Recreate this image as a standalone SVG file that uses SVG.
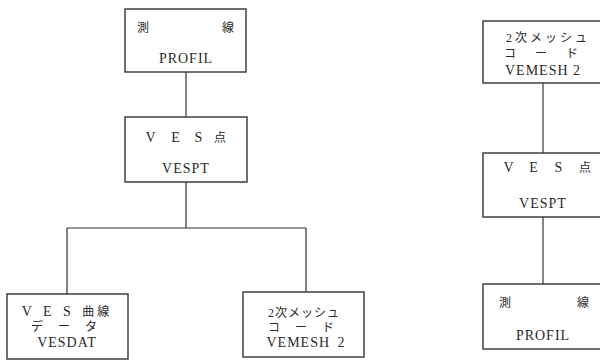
<svg xmlns="http://www.w3.org/2000/svg" width="600" height="362" viewBox="0 0 600 362">
<style>
.box{fill:#fff;stroke:#333;stroke-width:1.4}
.ln{fill:none;stroke:#333;stroke-width:1.2}
text{font-family:"Liberation Serif","Noto Sans CJK JP",serif;font-size:14px;fill:#2a2a2a;text-anchor:middle;letter-spacing:1px}
.j{font-size:12px;letter-spacing:0}
</style>
<rect width="600" height="362" fill="#fff"/>
<g id="connectors">
<path class="ln" d="M186,72V117"/>
<path class="ln" d="M186,182V228M67,228H306M67,228V294M306,228V292"/>
<path class="ln" d="M543,83V153"/>
<path class="ln" d="M543,217V284"/>
</g>
<g id="profil-left">
<rect class="box" x="125" y="9" width="121" height="63"/>
<text class="j" x="143" y="32">測</text>
<text class="j" x="228" y="32">線</text>
<text x="186" y="63">PROFIL</text>
</g>
<g id="vespt-left">
<rect class="box" x="125" y="117" width="122" height="65"/>
<text x="151" y="142">V</text>
<text x="176" y="142">E</text>
<text x="199" y="142">S</text>
<text class="j" x="220" y="142">点</text>
<text x="186" y="173">VESPT</text>
</g>
<g id="vesdat">
<rect class="box" x="7" y="294" width="121" height="65"/>
<text x="67" y="316" style="letter-spacing:4px">V E S <tspan class="j" style="letter-spacing:3px">曲線</tspan></text>
<text class="j" x="67" y="331" style="letter-spacing:6px">デ ー タ</text>
<text x="67" y="347">VESDAT</text>
</g>
<g id="vemesh-left">
<rect class="box" x="243" y="292" width="121" height="65"/>
<text class="j" x="304" y="317" style="letter-spacing:1px">2次メッシュ</text>
<text class="j" x="304" y="332" style="letter-spacing:6px">コ ー ド</text>
<text x="306" y="347" style="word-spacing:3px">VEMESH 2</text>
</g>
<g id="vemesh-right">
<rect class="box" x="483" y="21" width="125" height="62"/>
<text class="j" x="548" y="42" style="letter-spacing:3px">2次メッシュ</text>
<text class="j" x="545" y="58" style="letter-spacing:8px">コ ー ド</text>
<text x="543" y="75">VEMESH 2</text>
</g>
<g id="vespt-right">
<rect class="box" x="483" y="153" width="125" height="64"/>
<text x="509" y="172">V</text>
<text x="534" y="172">E</text>
<text x="559" y="172">S</text>
<text class="j" x="585" y="172">点</text>
<text x="543" y="208">VESPT</text>
</g>
<g id="profil-right">
<rect class="box" x="483" y="284" width="125" height="65"/>
<text class="j" x="505" y="307">測</text>
<text class="j" x="583" y="307">線</text>
<text x="543" y="340">PROFIL</text>
</g>
</svg>
